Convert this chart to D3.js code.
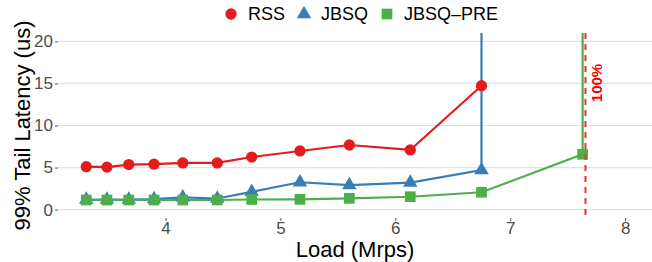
<!doctype html>
<html lang="en">
<head>
  <meta charset="utf-8">
  <title>Tail latency</title>
  <script src="https://cdnjs.cloudflare.com/ajax/libs/d3/7.8.5/d3.min.js"></script>
  <style>
    body { margin: 0; background: #fff; }
    text { font-family: "Liberation Sans", Arial, sans-serif; }
  </style>
</head>
<body>
<div id="chart"></div>
<script>

// data
var loads    = [3.31, 3.49, 3.68, 3.9, 4.15, 4.45, 4.75, 5.17, 5.6, 6.13, 6.75];
var rss      = [5.1, 5.05, 5.35, 5.4, 5.55, 5.55, 6.25, 6.97, 7.68, 7.09, 14.73];
// last point of each JBSQ series is off the chart (saturated)
var jbsqLoads = [3.31, 3.49, 3.68, 3.9, 4.15, 4.45, 4.75, 5.17, 5.6, 6.13, 6.75, 6.75];
var jbsq      = [1.2, 1.2, 1.2, 1.25, 1.45, 1.32, 2.1, 3.25, 2.92, 3.2, 4.7, 120];
var preLoads  = [3.31, 3.49, 3.68, 3.9, 4.15, 4.45, 4.75, 5.17, 5.6, 6.13, 6.75, 7.63, 7.63];
var jbsqPre   = [1.14, 1.14, 1.14, 1.14, 1.14, 1.14, 1.2, 1.22, 1.34, 1.53, 2.06, 6.58, 120];
var maxLoad = 7.655;
var xTicks = [4, 5, 6, 7, 8];
var yTicks = [0, 5, 10, 15, 20];
var names  = ["RSS", "JBSQ", "JBSQ\u2013PRE"];
var colors = ["#E41A1C", "#377EB8", "#4DAF4A"];

var W = 652, H = 262;
var pLeft = 58, pRight = 652, pTop = 33, pBottom = 218;

var svg = d3.select("#chart").append("svg")
  .attr("width", W).attr("height", H);

var x = d3.scaleLinear().domain([3.064, 8.234]).range([pLeft, pRight]);
var y = d3.scaleLinear().domain([-1, 21]).range([pBottom, pTop]);

svg.append("defs").append("clipPath").attr("id", "clip")
  .append("rect").attr("x", pLeft).attr("y", pTop)
  .attr("width", pRight - pLeft).attr("height", pBottom - pTop);

// grid
svg.append("g").selectAll("line").data(yTicks).enter().append("line")
  .attr("x1", pLeft).attr("x2", pRight)
  .attr("y1", function(d) { return y(d); }).attr("y2", function(d) { return y(d); })
  .attr("stroke", "#e2e2e2").attr("stroke-width", 1.2);

// y axis
var yAx = svg.append("g")
  .attr("transform", "translate(" + pLeft + ",0)")
  .call(d3.axisLeft(y).tickValues(yTicks).tickFormat(d3.format("d")).tickSize(3).tickPadding(2));
yAx.select(".domain").remove();
yAx.selectAll("line").attr("stroke", "#555");
yAx.selectAll("text").attr("fill", "#4d4d4d").style("font-size", "17px")
  .style("font-family", "'Liberation Sans', Arial, sans-serif");

// x axis
var xAx = svg.append("g")
  .attr("transform", "translate(0," + pBottom + ")")
  .call(d3.axisBottom(x).tickValues(xTicks).tickFormat(d3.format("d")).tickSize(3).tickPadding(1));
xAx.select(".domain").remove();
xAx.selectAll("line").attr("stroke", "#555");
xAx.selectAll("text").attr("fill", "#4d4d4d").style("font-size", "17px")
  .style("font-family", "'Liberation Sans', Arial, sans-serif");

// axis titles
svg.append("text").attr("x", 355).attr("y", 257)
  .attr("text-anchor", "middle").style("font-size", "22px").attr("fill", "#000")
  .text("Load (Mrps)");
svg.append("text")
  .attr("transform", "translate(30," + ((pTop + pBottom) / 2) + ")rotate(-90)")
  .attr("text-anchor", "middle").style("font-size", "22px").attr("fill", "#000")
  .text("99% Tail Latency (us)");

var plot = svg.append("g").attr("clip-path", "url(#clip)");

var series = [
  { xs: loads, ys: rss, shape: d3.symbolCircle, size: 100 },
  { xs: jbsqLoads, ys: jbsq, shape: d3.symbolTriangle, size: 90 },
  { xs: preLoads, ys: jbsqPre, shape: d3.symbolSquare, size: 115 }
];

var line = d3.line()
  .x(function(d) { return x(d[0]); })
  .y(function(d) { return y(d[1]); });

series.forEach(function(s, i) {
  plot.append("path")
    .datum(d3.zip(s.xs, s.ys))
    .attr("d", line)
    .attr("fill", "none")
    .attr("stroke", colors[i])
    .attr("stroke-width", 2.2);
});

series.forEach(function(s, i) {
  plot.append("g").selectAll("path")
    .data(d3.zip(s.xs, s.ys))
    .enter().append("path")
    .attr("transform", function(d) { return "translate(" + x(d[0]) + "," + y(d[1]) + ")"; })
    .attr("d", d3.symbol().type(s.shape).size(s.size))
    .attr("fill", colors[i]);
});

// 100% load marker
svg.append("line")
  .attr("x1", x(maxLoad)).attr("x2", x(maxLoad))
  .attr("y1", pTop).attr("y2", pBottom)
  .attr("stroke", "#f03030").attr("stroke-width", 2)
  .attr("stroke-dasharray", "6,5");
svg.append("text")
  .attr("transform", "translate(" + (x(maxLoad) + 17) + ",83)rotate(-90)")
  .attr("text-anchor", "middle")
  .style("font-size", "15px").style("font-weight", "bold")
  .attr("fill", "#ff0000")
  .text("100%");

// legend
var legX = [231, 304, 387];
var legend = svg.append("g");
names.forEach(function(n, i) {
  legend.append("path")
    .attr("transform", "translate(" + legX[i] + ",14)")
    .attr("d", d3.symbol().type(series[i].shape).size(series[i].size))
    .attr("fill", colors[i]);
  legend.append("text")
    .attr("x", legX[i] + 17).attr("y", 20)
    .style("font-size", "18px").attr("fill", "#000")
    .text(n);
});

</script>
</body>
</html>
